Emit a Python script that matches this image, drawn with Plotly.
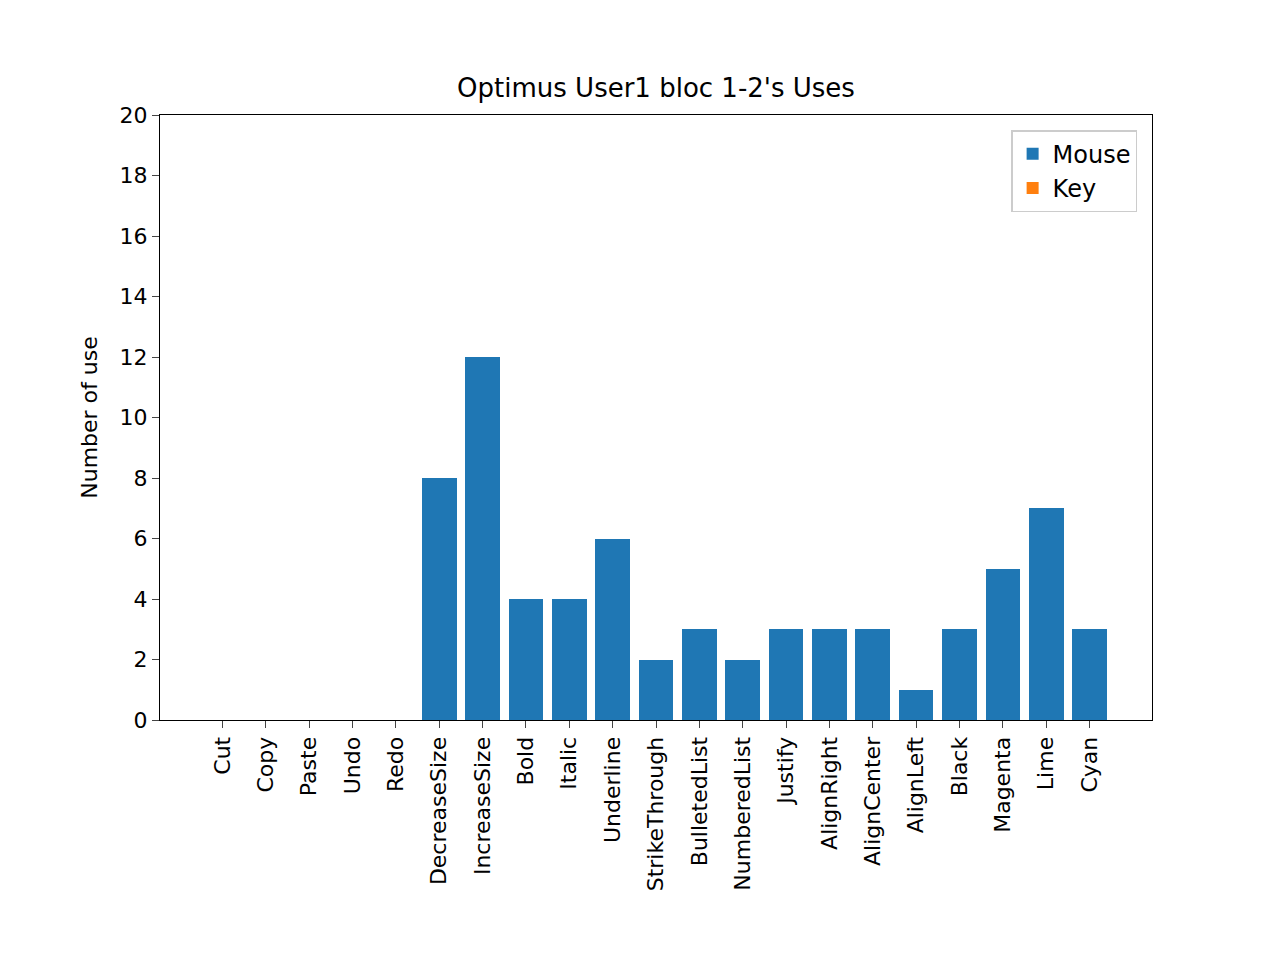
import plotly.graph_objects as go

categories = ["Cut","Copy","Paste","Undo","Redo","DecreaseSize","IncreaseSize","Bold","Italic","Underline","StrikeThrough","BulletedList","NumberedList","Justify","AlignRight","AlignCenter","AlignLeft","Black","Magenta","Lime","Cyan"]
mouse = [0,0,0,0,0,8,12,4,4,6,2,3,2,3,3,3,1,3,5,7,3]
key = [0]*21
yticks = list(range(0,21,2))

fig = go.Figure()
fig.add_bar(x=list(range(21)), y=mouse, name="Mouse", marker_color="#1f77b4", width=0.8, marker_line_width=0)
fig.add_bar(x=list(range(21)), y=key, name="Key", marker_color="#ff7f0e", width=0.8, marker_line_width=0)
fig.update_layout(
    barmode="stack", width=1280, height=960, plot_bgcolor="white", paper_bgcolor="white",
    margin=dict(l=152, r=136, t=107, b=248),
    font=dict(family="DejaVu Sans", size=22, color="black"),
    title=dict(text="Optimus User1 bloc 1-2's Uses", x=(152+1144)/2/1280, xanchor="center", y=1-80/960, yanchor="middle", font=dict(size=26)),
    xaxis=dict(range=[-1.44,21.44], tickmode="array", tickvals=list(range(21)), ticktext=categories,
               tickangle=-90, ticks="outside", ticklen=7, showline=True, linecolor="black", mirror=True, showgrid=False, zeroline=False),
    yaxis=dict(range=[0,20], tickvals=yticks, ticks="outside", ticklen=7, showline=True, linecolor="black", mirror=True,
               showgrid=False, zeroline=False, title=dict(text="Number of use", font=dict(size=22))),
    legend=dict(x=0.985, y=0.975, xanchor="right", yanchor="top", traceorder="normal", bordercolor="#cccccc", borderwidth=1.5, font=dict(size=24)),
    bargap=0.2,
)
fig.write_html("out.html")
